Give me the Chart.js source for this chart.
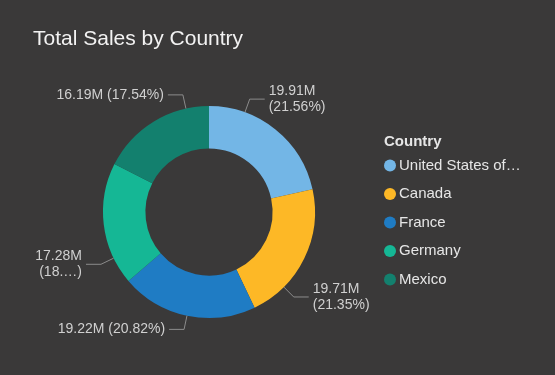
<!DOCTYPE html>
<html>
<head>
<meta charset="utf-8">
<script src="https://cdn.jsdelivr.net/npm/chart.js@4.4.1/dist/chart.umd.min.js"></script>
<style>
  html, body { margin: 0; padding: 0; background: #3a3939; }
  #wrap { width: 555px; height: 375px; }
</style>
</head>
<body>
<div id="wrap"><canvas id="c_chart" width="555" height="375"></canvas></div>
<script>
// chart data
const countries = ['United States of America', 'Canada', 'France', 'Germany', 'Mexico'];
const salesM = [19.91, 19.71, 19.22, 17.28, 16.19];
const sharePct = [21.56, 21.35, 20.82, 18.72, 17.54];
const sliceColors = ['#73b6e6', '#fdb826', '#1f7cc4', '#15b795', '#13806e'];

const FONT = '"Liberation Sans", Arial, sans-serif';

// shorten a string with an ellipsis so it fits maxW (keeps a closing paren)
function fitText(ctx, str, maxW) {
  if (ctx.measureText(str).width <= maxW) return str;
  let tail = str.endsWith(')') ? ')' : '';
  let body = tail ? str.slice(0, -1) : str;
  while (body.length > 1 && ctx.measureText(body + '\u2026' + tail).width > maxW) {
    body = body.slice(0, -1);
  }
  return body + '\u2026' + tail;
}

const titlePlugin = {
  id: 'titleText',
  afterDraw(chart) {
    const ctx = chart.ctx;
    ctx.save();
    ctx.fillStyle = '#f2f2f2';
    ctx.font = '21px ' + FONT;
    ctx.textBaseline = 'middle';
    ctx.textAlign = 'left';
    ctx.fillText('Total Sales by Country', 33, 39);
    ctx.restore();
  }
};

const legendPlugin = {
  id: 'sideLegend',
  afterDraw(chart) {
    const ctx = chart.ctx;
    const labels = chart.data.labels;
    const colors = chart.data.datasets[0].backgroundColor;
    ctx.save();
    ctx.textBaseline = 'middle';
    ctx.textAlign = 'left';
    ctx.fillStyle = '#e6e6e6';
    ctx.font = 'bold 15px ' + FONT;
    ctx.fillText('Country', 384, 142);
    ctx.font = '15px ' + FONT;
    labels.forEach((lab, i) => {
      let y = 165.5 + i * 28.5;
      ctx.beginPath();
      ctx.arc(390, y, 6, 0, Math.PI * 2);
      ctx.fillStyle = colors[i];
      ctx.fill();
      ctx.fillStyle = '#e6e6e6';
      ctx.fillText(fitText(ctx, lab, 125), 399, y);
    });
    ctx.restore();
  }
};

const dataLabelPlugin = {
  id: 'leaderLabels',
  afterDatasetsDraw(chart) {
    const ctx = chart.ctx;
    const arcs = chart.getDatasetMeta(0).data;
    ctx.save();
    ctx.font = '14px ' + FONT;
    ctx.textBaseline = 'middle';
    arcs.forEach((arc, i) => {
      const p = arc.getProps(['x', 'y', 'startAngle', 'endAngle', 'outerRadius'], true);
      let mid = (p.startAngle + p.endAngle) / 2;
      // clock angle, 0 = top, clockwise
      let deg = ((mid + Math.PI / 2) * 180 / Math.PI + 360) % 360;
      let pole = Math.abs(deg - 180) < 90 ? 180 : (deg < 90 ? 0 : 360);
      if (Math.abs(deg - pole) > 30) deg += (pole > deg ? 1 : -1) * 19;
      const a = deg * Math.PI / 180;
      const sx = p.x + p.outerRadius * Math.sin(a);
      const sy = p.y - p.outerRadius * Math.cos(a);
      const ex = p.x + (p.outerRadius + 14) * Math.sin(a);
      const ey = p.y - (p.outerRadius + 14) * Math.cos(a);
      const right = Math.sin(a) >= 0;
      const hx = ex + (right ? 15 : -15);

      ctx.strokeStyle = '#8c8c8c';
      ctx.lineWidth = 1;
      ctx.beginPath();
      ctx.moveTo(sx, sy);
      ctx.lineTo(ex, ey);
      ctx.lineTo(hx, ey);
      ctx.stroke();

      const tx = hx + (right ? 4 : -4);
      const avail = right ? 370 - tx : tx - 32;
      const valStr = salesM[i].toFixed(2) + 'M';
      const pctStr = '(' + sharePct[i].toFixed(2) + '%)';
      const full = valStr + ' ' + pctStr;
      let lines = ctx.measureText(full).width <= avail ? [full]
        : [fitText(ctx, valStr, avail), fitText(ctx, pctStr, avail)];
      const lh = 16.5;
      ctx.fillStyle = '#d0d0d0';
      ctx.textAlign = right ? 'left' : 'right';
      lines.forEach((ln, k) => {
        ctx.fillText(ln, tx, ey + (k - (lines.length - 1) / 2) * lh);
      });
    });
    ctx.restore();
  }
};

new Chart(document.getElementById('c_chart'), {
  type: 'doughnut',
  data: {
    labels: countries,
    datasets: [{
      data: salesM,
      backgroundColor: sliceColors,
      borderWidth: 0
    }]
  },
  options: {
    responsive: false,
    animation: false,
    cutout: '60%',
    layout: { padding: { left: 103, right: 240, top: 106, bottom: 57 } },
    plugins: {
      legend: { display: false },
      tooltip: { enabled: false }
    }
  },
  plugins: [dataLabelPlugin, legendPlugin, titlePlugin]
});
</script>
</body>
</html>
